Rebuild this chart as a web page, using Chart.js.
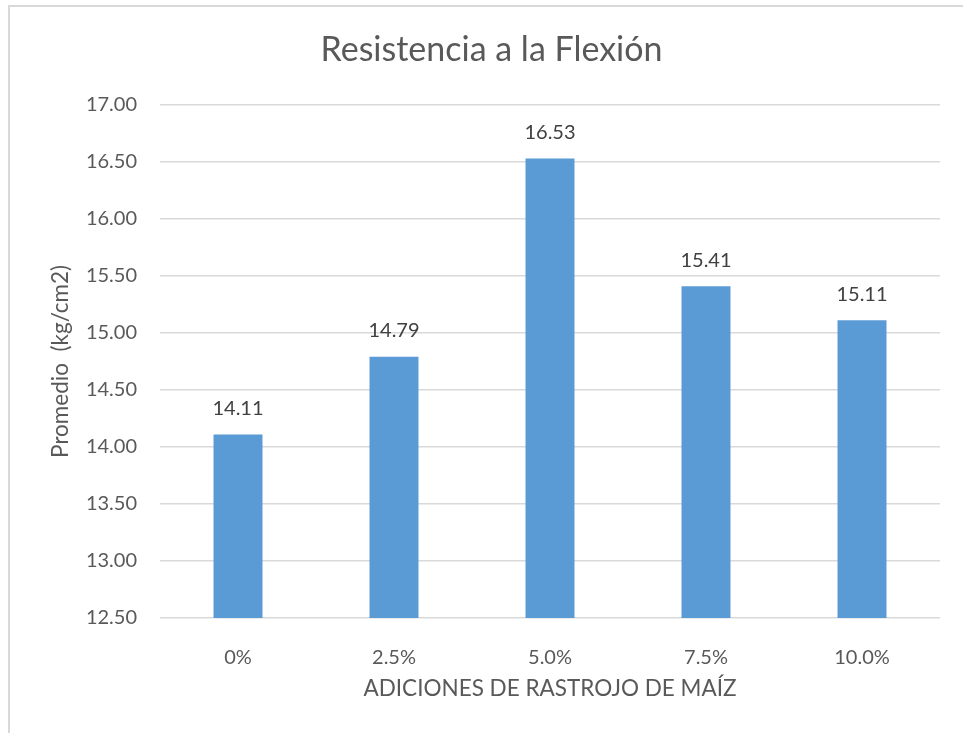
<!DOCTYPE html>
<html>
<head>
<meta charset="utf-8">
<script src="https://cdn.jsdelivr.net/npm/chart.js@4"></script>
<style>
  html, body { margin: 0; padding: 0; background: #fff; overflow: hidden; }
  #wrap { position: relative; width: 963px; height: 733px; }
  #frame { position: absolute; left: 8px; top: 5px; width: 1000px; height: 800px; border: 2px solid #d9d9d9; box-sizing: border-box; }
  #chart { position: absolute; left: 0; top: 0; }
</style>
</head>
<body>
<div id="wrap">
  <div id="frame"></div>
  <canvas id="chart" width="963" height="733"></canvas>
</div>
<script>
const categories = ['0%', '2.5%', '5.0%', '7.5%', '10.0%'];
const promedio = [14.11, 14.79, 16.53, 15.41, 15.11];
const yMin = 12.5;
const yMax = 17.0;
const yStep = 0.5;

const FONT = 'Lato, "Open Sans", sans-serif';

// labels on top of the bars
const barLabels = {
    id: 'barLabels',
    afterDatasetsDraw(chart) {
        const ctx = chart.ctx;
        const meta = chart.getDatasetMeta(0);
        ctx.save();
        ctx.font = '20px ' + FONT;
        ctx.fillStyle = '#404040';
        ctx.textAlign = 'center';
        ctx.textBaseline = 'middle';
        meta.data.forEach((bar, i) => {
            ctx.fillText(chart.data.datasets[0].data[i].toFixed(2), bar.x, bar.y - 26);
        });
        ctx.restore();
    }
};

const ctx = document.getElementById('chart');
const myChart = new Chart(ctx, {
    type: 'bar',
    data: {
        labels: categories,
        datasets: [{
            label: 'Promedio',
            data: promedio,
            backgroundColor: '#5b9bd5',
            borderWidth: 0,
            categoryPercentage: 1,
            barPercentage: 0.314
        }]
    },
    options: {
        responsive: false,
        animation: false,
        layout: {
            padding: { left: 43, right: 23, top: 0, bottom: 27 }
        },
        plugins: {
            legend: { display: false },
            tooltip: { enabled: false },
            title: {
                display: true,
                text: 'Resistencia a la Flexión',
                color: '#595959',
                font: { family: FONT, size: 34, weight: 'normal' },
                padding: { top: 30, bottom: 34 }
            }
        },
        scales: {
            x: {
                grid: { display: false },
                border: { display: false },
                ticks: {
                    color: '#595959',
                    font: { family: FONT, size: 20 },
                    padding: 20
                },
                title: {
                    display: true,
                    text: 'ADICIONES DE RASTROJO DE MAÍZ',
                    color: '#595959',
                    font: { family: FONT, size: 22.5 }
                },
                afterFit(scale) { scale.height = 88; }
            },
            y: {
                min: yMin,
                max: yMax,
                grid: { color: '#d9d9d9', lineWidth: 1.5, drawTicks: false },
                border: { display: false },
                ticks: {
                    stepSize: yStep,
                    color: '#595959',
                    font: { family: FONT, size: 20 },
                    padding: 23,
                    callback: (v) => Number(v).toFixed(2)
                },
                title: {
                    display: true,
                    text: 'Promedio  (kg/cm2)',
                    color: '#595959',
                    font: { family: FONT, size: 22.5 }
                },
                afterFit(scale) { scale.width = 117; }
            }
        }
    },
    plugins: [barLabels]
});
</script>
</body>
</html>
